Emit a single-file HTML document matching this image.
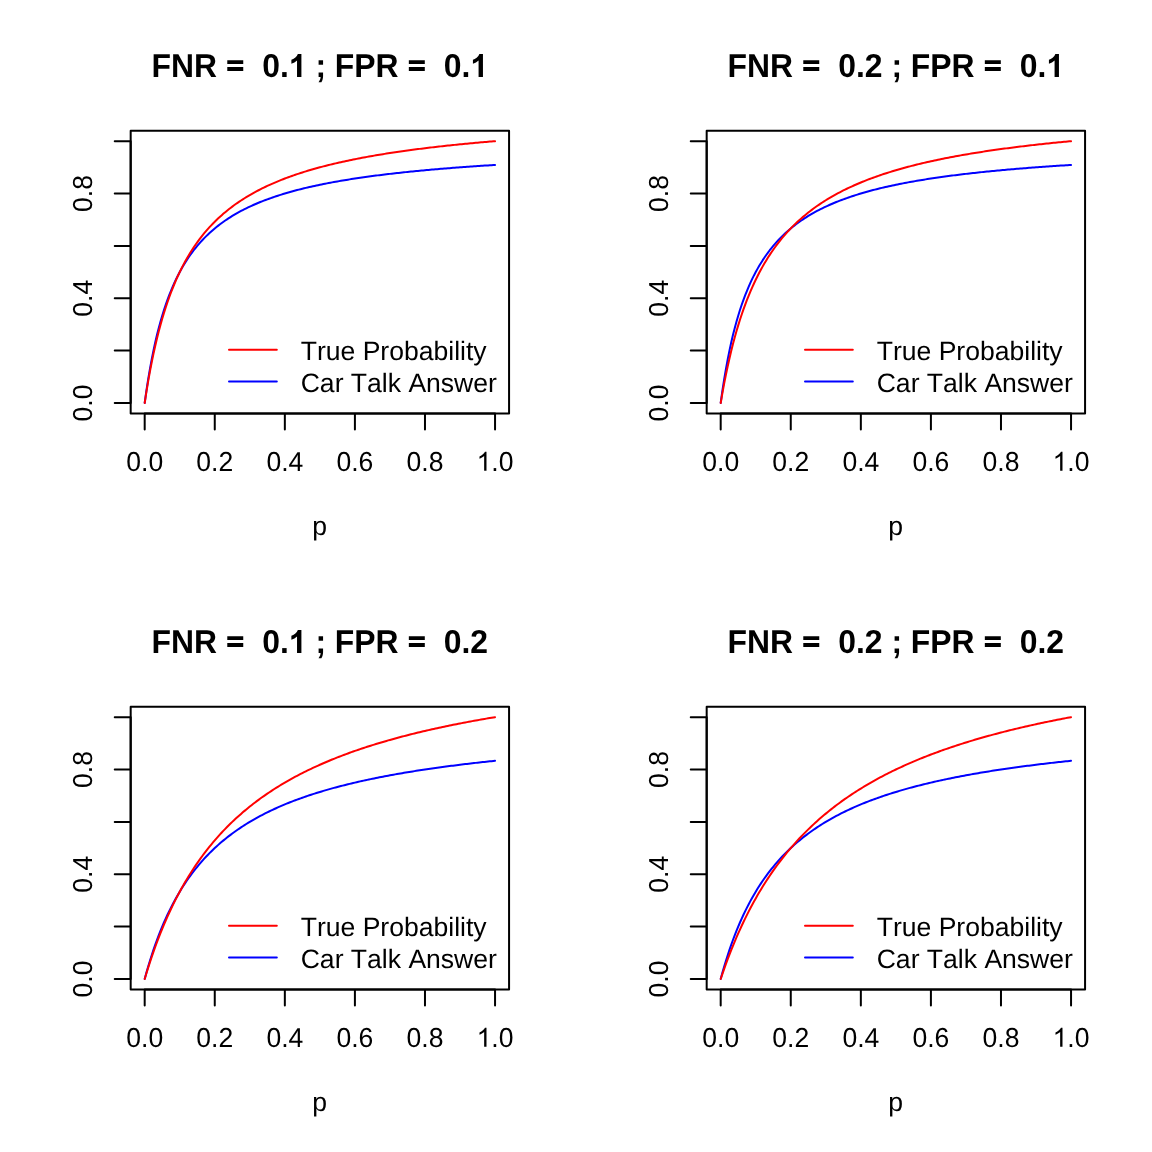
<!DOCTYPE html>
<html><head><meta charset="utf-8"><title>FNR / FPR plots</title>
<style>
html,body{margin:0;padding:0;background:#fff;overflow:hidden;}
svg{display:block;will-change:transform;}
text{font-family:"Liberation Sans",sans-serif;fill:#000;white-space:pre;font-kerning:none;text-rendering:geometricPrecision;}
.t{font-size:26.56px;}
.m{font-size:31.872px;font-weight:bold;}
.h{fill:none;fill-opacity:0;}
.k *{fill:none;stroke-width:2;stroke-linecap:round;stroke-linejoin:round;}
</style></head><body>
<svg width="1152" height="1152" viewBox="0 0 1152 1152">
<rect width="1152" height="1152" fill="#fff"/>
<!-- panel FNR=0.1 FPR=0.1 -->
<g class="k" stroke="#000">
<polyline points="144.69,402.98 146.44,390.51 148.19,379.18 149.95,368.83 151.7,359.34 153.45,350.61 155.2,342.56 156.95,335.1 158.7,328.17 160.46,321.72 162.21,315.7 163.96,310.07 165.71,304.79 167.46,299.83 169.22,295.17 170.97,290.77 172.72,286.61 174.47,282.68 176.22,278.95 177.97,275.42 179.73,272.06 181.48,268.87 183.23,265.83 184.98,262.93 186.73,260.16 188.49,257.52 190.24,254.99 191.99,252.57 193.74,250.24 195.49,248.02 197.24,245.88 199,243.83 200.75,241.85 202.5,239.95 204.25,238.12 206,236.36 207.76,234.66 209.51,233.02 211.26,231.44 213.01,229.9 214.76,228.43 216.51,226.99 218.27,225.61 220.02,224.27 221.77,222.97 223.52,221.71 225.27,220.49 227.03,219.31 228.78,218.16 230.53,217.04 232.28,215.96 234.03,214.9 235.78,213.88 237.54,212.88 239.29,211.91 241.04,210.97 242.79,210.05 244.54,209.16 246.3,208.28 248.05,207.43 249.8,206.61 251.55,205.8 253.3,205.01 255.05,204.24 256.81,203.49 258.56,202.76 260.31,202.04 262.06,201.34 263.81,200.66 265.57,199.99 267.32,199.33 269.07,198.69 270.82,198.07 272.57,197.46 274.32,196.86 276.08,196.27 277.83,195.7 279.58,195.13 281.33,194.58 283.08,194.04 284.84,193.51 286.59,193 288.34,192.49 290.09,191.99 291.84,191.5 293.59,191.02 295.35,190.55 297.1,190.09 298.85,189.64 300.6,189.19 302.35,188.75 304.11,188.33 305.86,187.9 307.61,187.49 309.36,187.08 311.11,186.68 312.86,186.29 314.62,185.91 316.37,185.53 318.12,185.15 319.87,184.79 321.62,184.43 323.38,184.07 325.13,183.72 326.88,183.38 328.63,183.04 330.38,182.71 332.13,182.38 333.89,182.06 335.64,181.74 337.39,181.43 339.14,181.12 340.89,180.82 342.65,180.52 344.4,180.23 346.15,179.94 347.9,179.65 349.65,179.37 351.4,179.09 353.16,178.82 354.91,178.55 356.66,178.29 358.41,178.03 360.16,177.77 361.92,177.51 363.67,177.26 365.42,177.02 367.17,176.77 368.92,176.53 370.67,176.29 372.43,176.06 374.18,175.83 375.93,175.6 377.68,175.37 379.43,175.15 381.19,174.93 382.94,174.72 384.69,174.5 386.44,174.29 388.19,174.08 389.94,173.88 391.7,173.67 393.45,173.47 395.2,173.27 396.95,173.08 398.7,172.89 400.46,172.69 402.21,172.51 403.96,172.32 405.71,172.13 407.46,171.95 409.21,171.77 410.97,171.59 412.72,171.42 414.47,171.24 416.22,171.07 417.97,170.9 419.73,170.73 421.48,170.57 423.23,170.4 424.98,170.24 426.73,170.08 428.48,169.92 430.24,169.76 431.99,169.61 433.74,169.45 435.49,169.3 437.24,169.15 439,169 440.75,168.86 442.5,168.71 444.25,168.57 446,168.42 447.76,168.28 449.51,168.14 451.26,168 453.01,167.87 454.76,167.73 456.51,167.6 458.27,167.46 460.02,167.33 461.77,167.2 463.52,167.07 465.27,166.94 467.03,166.82 468.78,166.69 470.53,166.57 472.28,166.45 474.03,166.32 475.78,166.2 477.54,166.08 479.29,165.97 481.04,165.85 482.79,165.73 484.54,165.62 486.3,165.5 488.05,165.39 489.8,165.28 491.55,165.17 493.3,165.06 495.05,164.95" stroke="#00f"/>
<polyline points="144.69,402.98 146.44,391.65 148.19,381.16 149.95,371.42 151.7,362.35 153.45,353.89 155.2,345.97 156.95,338.54 158.7,331.57 160.46,325.01 162.21,318.82 163.96,312.98 165.71,307.45 167.46,302.21 169.22,297.24 170.97,292.52 172.72,288.03 174.47,283.75 176.22,279.68 177.97,275.78 179.73,272.06 181.48,268.51 183.23,265.1 184.98,261.84 186.73,258.71 188.49,255.7 190.24,252.81 191.99,250.03 193.74,247.36 195.49,244.79 197.24,242.31 199,239.92 200.75,237.61 202.5,235.39 204.25,233.23 206,231.15 207.76,229.14 209.51,227.19 211.26,225.31 213.01,223.48 214.76,221.71 216.51,220 218.27,218.33 220.02,216.71 221.77,215.14 223.52,213.62 225.27,212.14 227.03,210.7 228.78,209.3 230.53,207.93 232.28,206.61 234.03,205.31 235.78,204.06 237.54,202.83 239.29,201.63 241.04,200.47 242.79,199.33 244.54,198.22 246.3,197.14 248.05,196.09 249.8,195.05 251.55,194.05 253.3,193.06 255.05,192.1 256.81,191.16 258.56,190.24 260.31,189.34 262.06,188.46 263.81,187.6 265.57,186.76 267.32,185.94 269.07,185.13 270.82,184.34 272.57,183.56 274.32,182.8 276.08,182.06 277.83,181.33 279.58,180.62 281.33,179.91 283.08,179.23 284.84,178.55 286.59,177.89 288.34,177.24 290.09,176.6 291.84,175.98 293.59,175.37 295.35,174.76 297.1,174.17 298.85,173.59 300.6,173.02 302.35,172.45 304.11,171.9 305.86,171.36 307.61,170.83 309.36,170.3 311.11,169.79 312.86,169.28 314.62,168.78 316.37,168.29 318.12,167.81 319.87,167.33 321.62,166.86 323.38,166.4 325.13,165.95 326.88,165.5 328.63,165.07 330.38,164.63 332.13,164.21 333.89,163.79 335.64,163.37 337.39,162.97 339.14,162.57 340.89,162.17 342.65,161.78 344.4,161.4 346.15,161.02 347.9,160.65 349.65,160.28 351.4,159.92 353.16,159.56 354.91,159.21 356.66,158.86 358.41,158.51 360.16,158.18 361.92,157.84 363.67,157.51 365.42,157.19 367.17,156.87 368.92,156.55 370.67,156.24 372.43,155.93 374.18,155.62 375.93,155.32 377.68,155.03 379.43,154.73 381.19,154.44 382.94,154.16 384.69,153.88 386.44,153.6 388.19,153.32 389.94,153.05 391.7,152.78 393.45,152.52 395.2,152.25 396.95,151.99 398.7,151.74 400.46,151.48 402.21,151.23 403.96,150.99 405.71,150.74 407.46,150.5 409.21,150.26 410.97,150.02 412.72,149.79 414.47,149.56 416.22,149.33 417.97,149.1 419.73,148.88 421.48,148.66 423.23,148.44 424.98,148.22 426.73,148.01 428.48,147.8 430.24,147.59 431.99,147.38 433.74,147.18 435.49,146.97 437.24,146.77 439,146.57 440.75,146.38 442.5,146.18 444.25,145.99 446,145.8 447.76,145.61 449.51,145.42 451.26,145.24 453.01,145.06 454.76,144.88 456.51,144.7 458.27,144.52 460.02,144.34 461.77,144.17 463.52,143.99 465.27,143.82 467.03,143.65 468.78,143.49 470.53,143.32 472.28,143.16 474.03,142.99 475.78,142.83 477.54,142.67 479.29,142.51 481.04,142.36 482.79,142.2 484.54,142.05 486.3,141.89 488.05,141.74 489.8,141.59 491.55,141.44 493.3,141.29 495.05,141.15" stroke="#f00"/>
<path d="M144.69 413.45H495.05M144.69 413.45v15.94M214.76 413.45v15.94M284.84 413.45v15.94M354.91 413.45v15.94M424.98 413.45v15.94M495.05 413.45v15.94M130.68 402.98V141.15M130.68 402.98h-15.94M130.68 350.61h-15.94M130.68 298.25h-15.94M130.68 245.88h-15.94M130.68 193.51h-15.94M130.68 141.15h-15.94"/>
<rect x="130.68" y="130.68" width="378.39" height="282.78"/>
<path d="M229 349.71h47.8" stroke="#f00"/>
<path d="M229 381.58h47.8" stroke="#00f"/>
</g>
<g transform="translate(144.69 470.82)"><text x="-18.46" y="0" class="t" transform="scale(1 1.032)">0.0</text></g>
<g transform="translate(214.76 470.82)"><text x="-18.46" y="0" class="t" transform="scale(1 1.032)">0.2</text></g>
<g transform="translate(284.84 470.82)"><text x="-18.46" y="0" class="t" transform="scale(1 1.032)">0.4</text></g>
<g transform="translate(354.91 470.82)"><text x="-18.46" y="0" class="t" transform="scale(1 1.032)">0.6</text></g>
<g transform="translate(424.98 470.82)"><text x="-18.46" y="0" class="t" transform="scale(1 1.032)">0.8</text></g>
<g transform="translate(495.05 470.82)"><text x="-18.46" y="0" class="t" transform="scale(1 1.032)"><tspan class="h">1</tspan>.0</text><path d="M763 0H583V1147Q518 1085 412.5 1023T223 930V1104Q374 1175 487.5 1275T647 1472H763Z" transform="translate(-18.46 0) scale(0.012969 -0.012969)"/></g>
<g transform="translate(92.43 402.98) rotate(-90)"><text x="-18.46" y="0" class="t" transform="scale(1 1.032)">0.0</text></g>
<g transform="translate(92.43 298.25) rotate(-90)"><text x="-18.46" y="0" class="t" transform="scale(1 1.032)">0.4</text></g>
<g transform="translate(92.43 193.51) rotate(-90)"><text x="-18.46" y="0" class="t" transform="scale(1 1.032)">0.8</text></g>
<g transform="translate(319.57 534.57)"><text x="-7.39" y="0" class="t">p</text></g>
<g transform="translate(319.87 76.9)"><text x="-168.27" y="0" class="m" transform="scale(1 1.038)">FNR <tspan class="h">=</tspan>  0.<tspan class="h">1</tspan> ; FPR <tspan class="h">=</tspan>  0.<tspan class="h">1</tspan></text><path d="M85 829H1111V1076H85ZM85 383H1111V631H85Z" transform="translate(-93.91 0) scale(0.015562 -0.015562)"/><path d="M806 0H525V1059Q371 915 162 846V1101Q272 1137 401 1236.5T578 1472H806Z" transform="translate(-31.01 0) scale(0.015562 -0.015562)"/><path d="M85 829H1111V1076H85ZM85 383H1111V631H85Z" transform="translate(87.64 0) scale(0.015562 -0.015562)"/><path d="M806 0H525V1059Q371 915 162 846V1101Q272 1137 401 1236.5T578 1472H806Z" transform="translate(150.54 0) scale(0.015562 -0.015562)"/></g>
<g transform="translate(300.7 359.91)"><text x="0" y="0" class="t">True Probability</text></g>
<g transform="translate(300.7 391.78)"><text x="0" y="0" class="t">Car Talk Answer</text></g>
<!-- panel FNR=0.2 FPR=0.1 -->
<g class="k" stroke="#000">
<polyline points="720.69,402.98 722.44,390.51 724.19,379.18 725.95,368.83 727.7,359.34 729.45,350.61 731.2,342.56 732.95,335.1 734.7,328.17 736.46,321.72 738.21,315.7 739.96,310.07 741.71,304.79 743.46,299.83 745.22,295.17 746.97,290.77 748.72,286.61 750.47,282.68 752.22,278.95 753.97,275.42 755.73,272.06 757.48,268.87 759.23,265.83 760.98,262.93 762.73,260.16 764.49,257.52 766.24,254.99 767.99,252.57 769.74,250.24 771.49,248.02 773.24,245.88 775,243.83 776.75,241.85 778.5,239.95 780.25,238.12 782,236.36 783.76,234.66 785.51,233.02 787.26,231.44 789.01,229.9 790.76,228.43 792.51,226.99 794.27,225.61 796.02,224.27 797.77,222.97 799.52,221.71 801.27,220.49 803.03,219.31 804.78,218.16 806.53,217.04 808.28,215.96 810.03,214.9 811.78,213.88 813.54,212.88 815.29,211.91 817.04,210.97 818.79,210.05 820.54,209.16 822.3,208.28 824.05,207.43 825.8,206.61 827.55,205.8 829.3,205.01 831.05,204.24 832.81,203.49 834.56,202.76 836.31,202.04 838.06,201.34 839.81,200.66 841.57,199.99 843.32,199.33 845.07,198.69 846.82,198.07 848.57,197.46 850.32,196.86 852.08,196.27 853.83,195.7 855.58,195.13 857.33,194.58 859.08,194.04 860.84,193.51 862.59,193 864.34,192.49 866.09,191.99 867.84,191.5 869.59,191.02 871.35,190.55 873.1,190.09 874.85,189.64 876.6,189.19 878.35,188.75 880.11,188.33 881.86,187.9 883.61,187.49 885.36,187.08 887.11,186.68 888.86,186.29 890.62,185.91 892.37,185.53 894.12,185.15 895.87,184.79 897.62,184.43 899.38,184.07 901.13,183.72 902.88,183.38 904.63,183.04 906.38,182.71 908.13,182.38 909.89,182.06 911.64,181.74 913.39,181.43 915.14,181.12 916.89,180.82 918.65,180.52 920.4,180.23 922.15,179.94 923.9,179.65 925.65,179.37 927.4,179.09 929.16,178.82 930.91,178.55 932.66,178.29 934.41,178.03 936.16,177.77 937.92,177.51 939.67,177.26 941.42,177.02 943.17,176.77 944.92,176.53 946.67,176.29 948.43,176.06 950.18,175.83 951.93,175.6 953.68,175.37 955.43,175.15 957.19,174.93 958.94,174.72 960.69,174.5 962.44,174.29 964.19,174.08 965.94,173.88 967.7,173.67 969.45,173.47 971.2,173.27 972.95,173.08 974.7,172.89 976.46,172.69 978.21,172.51 979.96,172.32 981.71,172.13 983.46,171.95 985.21,171.77 986.97,171.59 988.72,171.42 990.47,171.24 992.22,171.07 993.97,170.9 995.73,170.73 997.48,170.57 999.23,170.4 1000.98,170.24 1002.73,170.08 1004.48,169.92 1006.24,169.76 1007.99,169.61 1009.74,169.45 1011.49,169.3 1013.24,169.15 1015,169 1016.75,168.86 1018.5,168.71 1020.25,168.57 1022,168.42 1023.76,168.28 1025.51,168.14 1027.26,168 1029.01,167.87 1030.76,167.73 1032.51,167.6 1034.27,167.46 1036.02,167.33 1037.77,167.2 1039.52,167.07 1041.27,166.94 1043.03,166.82 1044.78,166.69 1046.53,166.57 1048.28,166.45 1050.03,166.32 1051.78,166.2 1053.54,166.08 1055.29,165.97 1057.04,165.85 1058.79,165.73 1060.54,165.62 1062.3,165.5 1064.05,165.39 1065.8,165.28 1067.55,165.17 1069.3,165.06 1071.05,164.95" stroke="#00f"/>
<polyline points="720.69,402.98 722.44,392.86 724.19,383.4 725.95,374.55 727.7,366.23 729.45,358.41 731.2,351.05 732.95,344.09 734.7,337.52 736.46,331.3 738.21,325.4 739.96,319.8 741.71,314.47 743.46,309.4 745.22,304.57 746.97,299.96 748.72,295.56 750.47,291.35 752.22,287.32 753.97,283.47 755.73,279.76 757.48,276.21 759.23,272.8 760.98,269.53 762.73,266.37 764.49,263.34 766.24,260.41 767.99,257.59 769.74,254.87 771.49,252.25 773.24,249.71 775,247.26 776.75,244.89 778.5,242.6 780.25,240.38 782,238.23 783.76,236.15 785.51,234.13 787.26,232.17 789.01,230.27 790.76,228.43 792.51,226.63 794.27,224.89 796.02,223.2 797.77,221.55 799.52,219.95 801.27,218.39 803.03,216.88 804.78,215.4 806.53,213.96 808.28,212.56 810.03,211.19 811.78,209.86 813.54,208.56 815.29,207.29 817.04,206.05 818.79,204.84 820.54,203.66 822.3,202.5 824.05,201.37 825.8,200.27 827.55,199.19 829.3,198.14 831.05,197.11 832.81,196.1 834.56,195.11 836.31,194.15 838.06,193.2 839.81,192.28 841.57,191.37 843.32,190.48 845.07,189.61 846.82,188.75 848.57,187.92 850.32,187.1 852.08,186.29 853.83,185.5 855.58,184.73 857.33,183.97 859.08,183.22 860.84,182.49 862.59,181.77 864.34,181.07 866.09,180.37 867.84,179.69 869.59,179.02 871.35,178.37 873.1,177.72 874.85,177.09 876.6,176.46 878.35,175.85 880.11,175.25 881.86,174.65 883.61,174.07 885.36,173.5 887.11,172.93 888.86,172.38 890.62,171.83 892.37,171.29 894.12,170.76 895.87,170.24 897.62,169.73 899.38,169.22 901.13,168.72 902.88,168.23 904.63,167.75 906.38,167.28 908.13,166.81 909.89,166.35 911.64,165.89 913.39,165.44 915.14,165 916.89,164.56 918.65,164.13 920.4,163.71 922.15,163.29 923.9,162.88 925.65,162.48 927.4,162.07 929.16,161.68 930.91,161.29 932.66,160.9 934.41,160.52 936.16,160.15 937.92,159.78 939.67,159.42 941.42,159.06 943.17,158.7 944.92,158.35 946.67,158 948.43,157.66 950.18,157.32 951.93,156.99 953.68,156.66 955.43,156.33 957.19,156.01 958.94,155.69 960.69,155.38 962.44,155.07 964.19,154.76 965.94,154.46 967.7,154.16 969.45,153.87 971.2,153.58 972.95,153.29 974.7,153 976.46,152.72 978.21,152.44 979.96,152.16 981.71,151.89 983.46,151.62 985.21,151.36 986.97,151.09 988.72,150.83 990.47,150.57 992.22,150.32 993.97,150.07 995.73,149.82 997.48,149.57 999.23,149.32 1000.98,149.08 1002.73,148.84 1004.48,148.61 1006.24,148.37 1007.99,148.14 1009.74,147.91 1011.49,147.68 1013.24,147.46 1015,147.24 1016.75,147.02 1018.5,146.8 1020.25,146.58 1022,146.37 1023.76,146.16 1025.51,145.95 1027.26,145.74 1029.01,145.54 1030.76,145.33 1032.51,145.13 1034.27,144.93 1036.02,144.74 1037.77,144.54 1039.52,144.35 1041.27,144.15 1043.03,143.96 1044.78,143.78 1046.53,143.59 1048.28,143.4 1050.03,143.22 1051.78,143.04 1053.54,142.86 1055.29,142.68 1057.04,142.51 1058.79,142.33 1060.54,142.16 1062.3,141.98 1064.05,141.81 1065.8,141.65 1067.55,141.48 1069.3,141.31 1071.05,141.15" stroke="#f00"/>
<path d="M720.69 413.45H1071.05M720.69 413.45v15.94M790.76 413.45v15.94M860.84 413.45v15.94M930.91 413.45v15.94M1000.98 413.45v15.94M1071.05 413.45v15.94M706.68 402.98V141.15M706.68 402.98h-15.94M706.68 350.61h-15.94M706.68 298.25h-15.94M706.68 245.88h-15.94M706.68 193.51h-15.94M706.68 141.15h-15.94"/>
<rect x="706.68" y="130.68" width="378.39" height="282.78"/>
<path d="M805 349.71h47.8" stroke="#f00"/>
<path d="M805 381.58h47.8" stroke="#00f"/>
</g>
<g transform="translate(720.69 470.82)"><text x="-18.46" y="0" class="t" transform="scale(1 1.032)">0.0</text></g>
<g transform="translate(790.76 470.82)"><text x="-18.46" y="0" class="t" transform="scale(1 1.032)">0.2</text></g>
<g transform="translate(860.84 470.82)"><text x="-18.46" y="0" class="t" transform="scale(1 1.032)">0.4</text></g>
<g transform="translate(930.91 470.82)"><text x="-18.46" y="0" class="t" transform="scale(1 1.032)">0.6</text></g>
<g transform="translate(1000.98 470.82)"><text x="-18.46" y="0" class="t" transform="scale(1 1.032)">0.8</text></g>
<g transform="translate(1071.05 470.82)"><text x="-18.46" y="0" class="t" transform="scale(1 1.032)"><tspan class="h">1</tspan>.0</text><path d="M763 0H583V1147Q518 1085 412.5 1023T223 930V1104Q374 1175 487.5 1275T647 1472H763Z" transform="translate(-18.46 0) scale(0.012969 -0.012969)"/></g>
<g transform="translate(668.43 402.98) rotate(-90)"><text x="-18.46" y="0" class="t" transform="scale(1 1.032)">0.0</text></g>
<g transform="translate(668.43 298.25) rotate(-90)"><text x="-18.46" y="0" class="t" transform="scale(1 1.032)">0.4</text></g>
<g transform="translate(668.43 193.51) rotate(-90)"><text x="-18.46" y="0" class="t" transform="scale(1 1.032)">0.8</text></g>
<g transform="translate(895.57 534.57)"><text x="-7.39" y="0" class="t">p</text></g>
<g transform="translate(895.87 76.9)"><text x="-168.27" y="0" class="m" transform="scale(1 1.038)">FNR <tspan class="h">=</tspan>  0.2 ; FPR <tspan class="h">=</tspan>  0.<tspan class="h">1</tspan></text><path d="M85 829H1111V1076H85ZM85 383H1111V631H85Z" transform="translate(-93.91 0) scale(0.015562 -0.015562)"/><path d="M85 829H1111V1076H85ZM85 383H1111V631H85Z" transform="translate(87.64 0) scale(0.015562 -0.015562)"/><path d="M806 0H525V1059Q371 915 162 846V1101Q272 1137 401 1236.5T578 1472H806Z" transform="translate(150.54 0) scale(0.015562 -0.015562)"/></g>
<g transform="translate(876.7 359.91)"><text x="0" y="0" class="t">True Probability</text></g>
<g transform="translate(876.7 391.78)"><text x="0" y="0" class="t">Car Talk Answer</text></g>
<!-- panel FNR=0.1 FPR=0.2 -->
<g class="k" stroke="#000">
<polyline points="144.69,978.98 146.44,972.59 148.19,966.51 149.95,960.71 151.7,955.18 153.45,949.89 155.2,944.83 156.95,939.98 158.7,935.34 160.46,930.89 162.21,926.61 163.96,922.51 165.71,918.56 167.46,914.76 169.22,911.1 170.97,907.57 172.72,904.17 174.47,900.89 176.22,897.72 177.97,894.66 179.73,891.7 181.48,888.84 183.23,886.07 184.98,883.39 186.73,880.79 188.49,878.28 190.24,875.83 191.99,873.47 193.74,871.17 195.49,868.93 197.24,866.77 199,864.66 200.75,862.61 202.5,860.62 204.25,858.68 206,856.79 207.76,854.95 209.51,853.16 211.26,851.42 213.01,849.72 214.76,848.06 216.51,846.45 218.27,844.87 220.02,843.33 221.77,841.83 223.52,840.36 225.27,838.93 227.03,837.53 228.78,836.16 230.53,834.83 232.28,833.52 234.03,832.24 235.78,830.99 237.54,829.76 239.29,828.57 241.04,827.39 242.79,826.24 244.54,825.12 246.3,824.02 248.05,822.94 249.8,821.88 251.55,820.84 253.3,819.83 255.05,818.83 256.81,817.85 258.56,816.89 260.31,815.95 262.06,815.03 263.81,814.12 265.57,813.23 267.32,812.36 269.07,811.5 270.82,810.66 272.57,809.83 274.32,809.02 276.08,808.22 277.83,807.44 279.58,806.66 281.33,805.9 283.08,805.16 284.84,804.43 286.59,803.7 288.34,802.99 290.09,802.3 291.84,801.61 293.59,800.93 295.35,800.27 297.1,799.61 298.85,798.97 300.6,798.34 302.35,797.71 304.11,797.1 305.86,796.49 307.61,795.89 309.36,795.31 311.11,794.73 312.86,794.16 314.62,793.6 316.37,793.04 318.12,792.5 319.87,791.96 321.62,791.43 323.38,790.9 325.13,790.39 326.88,789.88 328.63,789.38 330.38,788.88 332.13,788.4 333.89,787.91 335.64,787.44 337.39,786.97 339.14,786.51 340.89,786.05 342.65,785.6 344.4,785.16 346.15,784.72 347.9,784.28 349.65,783.86 351.4,783.43 353.16,783.02 354.91,782.61 356.66,782.2 358.41,781.8 360.16,781.4 361.92,781.01 363.67,780.62 365.42,780.24 367.17,779.86 368.92,779.49 370.67,779.12 372.43,778.76 374.18,778.4 375.93,778.04 377.68,777.69 379.43,777.34 381.19,777 382.94,776.66 384.69,776.32 386.44,775.99 388.19,775.66 389.94,775.33 391.7,775.01 393.45,774.69 395.2,774.38 396.95,774.07 398.7,773.76 400.46,773.46 402.21,773.16 403.96,772.86 405.71,772.56 407.46,772.27 409.21,771.98 410.97,771.7 412.72,771.41 414.47,771.13 416.22,770.86 417.97,770.58 419.73,770.31 421.48,770.04 423.23,769.78 424.98,769.51 426.73,769.25 428.48,769 430.24,768.74 431.99,768.49 433.74,768.24 435.49,767.99 437.24,767.74 439,767.5 440.75,767.26 442.5,767.02 444.25,766.78 446,766.55 447.76,766.32 449.51,766.09 451.26,765.86 453.01,765.64 454.76,765.41 456.51,765.19 458.27,764.97 460.02,764.75 461.77,764.54 463.52,764.33 465.27,764.11 467.03,763.9 468.78,763.7 470.53,763.49 472.28,763.29 474.03,763.08 475.78,762.88 477.54,762.68 479.29,762.49 481.04,762.29 482.79,762.1 484.54,761.91 486.3,761.72 488.05,761.53 489.8,761.34 491.55,761.15 493.3,760.97 495.05,760.79" stroke="#00f"/>
<polyline points="144.69,978.98 146.44,973.19 148.19,967.6 149.95,962.19 151.7,956.96 153.45,951.89 155.2,946.99 156.95,942.24 158.7,937.64 160.46,933.17 162.21,928.84 163.96,924.64 165.71,920.55 167.46,916.59 169.22,912.73 170.97,908.99 172.72,905.34 174.47,901.79 176.22,898.34 177.97,894.98 179.73,891.7 181.48,888.51 183.23,885.4 184.98,882.37 186.73,879.41 188.49,876.52 190.24,873.71 191.99,870.96 193.74,868.27 195.49,865.65 197.24,863.09 199,860.58 200.75,858.13 202.5,855.74 204.25,853.4 206,851.11 207.76,848.87 209.51,846.67 211.26,844.53 213.01,842.42 214.76,840.36 216.51,838.35 218.27,836.37 220.02,834.43 221.77,832.53 223.52,830.67 225.27,828.84 227.03,827.05 228.78,825.3 230.53,823.57 232.28,821.88 234.03,820.22 235.78,818.59 237.54,816.99 239.29,815.42 241.04,813.88 242.79,812.36 244.54,810.87 246.3,809.41 248.05,807.97 249.8,806.55 251.55,805.16 253.3,803.8 255.05,802.45 256.81,801.13 258.56,799.83 260.31,798.55 262.06,797.29 263.81,796.06 265.57,794.84 267.32,793.64 269.07,792.46 270.82,791.3 272.57,790.15 274.32,789.02 276.08,787.91 277.83,786.82 279.58,785.74 281.33,784.68 283.08,783.64 284.84,782.61 286.59,781.59 288.34,780.59 290.09,779.6 291.84,778.63 293.59,777.67 295.35,776.73 297.1,775.79 298.85,774.87 300.6,773.97 302.35,773.07 304.11,772.19 305.86,771.32 307.61,770.46 309.36,769.61 311.11,768.78 312.86,767.95 314.62,767.14 316.37,766.33 318.12,765.54 319.87,764.75 321.62,763.98 323.38,763.22 325.13,762.46 326.88,761.72 328.63,760.98 330.38,760.25 332.13,759.53 333.89,758.82 335.64,758.12 337.39,757.43 339.14,756.75 340.89,756.07 342.65,755.4 344.4,754.74 346.15,754.09 347.9,753.44 349.65,752.8 351.4,752.17 353.16,751.55 354.91,750.93 356.66,750.32 358.41,749.72 360.16,749.12 361.92,748.54 363.67,747.95 365.42,747.38 367.17,746.81 368.92,746.24 370.67,745.68 372.43,745.13 374.18,744.58 375.93,744.04 377.68,743.51 379.43,742.98 381.19,742.46 382.94,741.94 384.69,741.42 386.44,740.92 388.19,740.41 389.94,739.92 391.7,739.42 393.45,738.94 395.2,738.45 396.95,737.98 398.7,737.5 400.46,737.03 402.21,736.57 403.96,736.11 405.71,735.66 407.46,735.21 409.21,734.76 410.97,734.32 412.72,733.88 414.47,733.45 416.22,733.02 417.97,732.59 419.73,732.17 421.48,731.75 423.23,731.34 424.98,730.93 426.73,730.52 428.48,730.12 430.24,729.72 431.99,729.33 433.74,728.94 435.49,728.55 437.24,728.16 439,727.78 440.75,727.4 442.5,727.03 444.25,726.66 446,726.29 447.76,725.92 449.51,725.56 451.26,725.2 453.01,724.85 454.76,724.5 456.51,724.15 458.27,723.8 460.02,723.46 461.77,723.12 463.52,722.78 465.27,722.44 467.03,722.11 468.78,721.78 470.53,721.46 472.28,721.13 474.03,720.81 475.78,720.49 477.54,720.18 479.29,719.86 481.04,719.55 482.79,719.24 484.54,718.94 486.3,718.63 488.05,718.33 489.8,718.03 491.55,717.73 493.3,717.44 495.05,717.15" stroke="#f00"/>
<path d="M144.69 989.45H495.05M144.69 989.45v15.94M214.76 989.45v15.94M284.84 989.45v15.94M354.91 989.45v15.94M424.98 989.45v15.94M495.05 989.45v15.94M130.68 978.98V717.15M130.68 978.98h-15.94M130.68 926.61h-15.94M130.68 874.25h-15.94M130.68 821.88h-15.94M130.68 769.51h-15.94M130.68 717.15h-15.94"/>
<rect x="130.68" y="706.68" width="378.39" height="282.78"/>
<path d="M229 925.71h47.8" stroke="#f00"/>
<path d="M229 957.58h47.8" stroke="#00f"/>
</g>
<g transform="translate(144.69 1046.82)"><text x="-18.46" y="0" class="t" transform="scale(1 1.032)">0.0</text></g>
<g transform="translate(214.76 1046.82)"><text x="-18.46" y="0" class="t" transform="scale(1 1.032)">0.2</text></g>
<g transform="translate(284.84 1046.82)"><text x="-18.46" y="0" class="t" transform="scale(1 1.032)">0.4</text></g>
<g transform="translate(354.91 1046.82)"><text x="-18.46" y="0" class="t" transform="scale(1 1.032)">0.6</text></g>
<g transform="translate(424.98 1046.82)"><text x="-18.46" y="0" class="t" transform="scale(1 1.032)">0.8</text></g>
<g transform="translate(495.05 1046.82)"><text x="-18.46" y="0" class="t" transform="scale(1 1.032)"><tspan class="h">1</tspan>.0</text><path d="M763 0H583V1147Q518 1085 412.5 1023T223 930V1104Q374 1175 487.5 1275T647 1472H763Z" transform="translate(-18.46 0) scale(0.012969 -0.012969)"/></g>
<g transform="translate(92.43 978.98) rotate(-90)"><text x="-18.46" y="0" class="t" transform="scale(1 1.032)">0.0</text></g>
<g transform="translate(92.43 874.25) rotate(-90)"><text x="-18.46" y="0" class="t" transform="scale(1 1.032)">0.4</text></g>
<g transform="translate(92.43 769.51) rotate(-90)"><text x="-18.46" y="0" class="t" transform="scale(1 1.032)">0.8</text></g>
<g transform="translate(319.57 1110.57)"><text x="-7.39" y="0" class="t">p</text></g>
<g transform="translate(319.87 652.9)"><text x="-168.27" y="0" class="m" transform="scale(1 1.038)">FNR <tspan class="h">=</tspan>  0.<tspan class="h">1</tspan> ; FPR <tspan class="h">=</tspan>  0.2</text><path d="M85 829H1111V1076H85ZM85 383H1111V631H85Z" transform="translate(-93.91 0) scale(0.015562 -0.015562)"/><path d="M806 0H525V1059Q371 915 162 846V1101Q272 1137 401 1236.5T578 1472H806Z" transform="translate(-31.01 0) scale(0.015562 -0.015562)"/><path d="M85 829H1111V1076H85ZM85 383H1111V631H85Z" transform="translate(87.64 0) scale(0.015562 -0.015562)"/></g>
<g transform="translate(300.7 935.91)"><text x="0" y="0" class="t">True Probability</text></g>
<g transform="translate(300.7 967.78)"><text x="0" y="0" class="t">Car Talk Answer</text></g>
<!-- panel FNR=0.2 FPR=0.2 -->
<g class="k" stroke="#000">
<polyline points="720.69,978.98 722.44,972.59 724.19,966.51 725.95,960.71 727.7,955.18 729.45,949.89 731.2,944.83 732.95,939.98 734.7,935.34 736.46,930.89 738.21,926.61 739.96,922.51 741.71,918.56 743.46,914.76 745.22,911.1 746.97,907.57 748.72,904.17 750.47,900.89 752.22,897.72 753.97,894.66 755.73,891.7 757.48,888.84 759.23,886.07 760.98,883.39 762.73,880.79 764.49,878.28 766.24,875.83 767.99,873.47 769.74,871.17 771.49,868.93 773.24,866.77 775,864.66 776.75,862.61 778.5,860.62 780.25,858.68 782,856.79 783.76,854.95 785.51,853.16 787.26,851.42 789.01,849.72 790.76,848.06 792.51,846.45 794.27,844.87 796.02,843.33 797.77,841.83 799.52,840.36 801.27,838.93 803.03,837.53 804.78,836.16 806.53,834.83 808.28,833.52 810.03,832.24 811.78,830.99 813.54,829.76 815.29,828.57 817.04,827.39 818.79,826.24 820.54,825.12 822.3,824.02 824.05,822.94 825.8,821.88 827.55,820.84 829.3,819.83 831.05,818.83 832.81,817.85 834.56,816.89 836.31,815.95 838.06,815.03 839.81,814.12 841.57,813.23 843.32,812.36 845.07,811.5 846.82,810.66 848.57,809.83 850.32,809.02 852.08,808.22 853.83,807.44 855.58,806.66 857.33,805.9 859.08,805.16 860.84,804.43 862.59,803.7 864.34,802.99 866.09,802.3 867.84,801.61 869.59,800.93 871.35,800.27 873.1,799.61 874.85,798.97 876.6,798.34 878.35,797.71 880.11,797.1 881.86,796.49 883.61,795.89 885.36,795.31 887.11,794.73 888.86,794.16 890.62,793.6 892.37,793.04 894.12,792.5 895.87,791.96 897.62,791.43 899.38,790.9 901.13,790.39 902.88,789.88 904.63,789.38 906.38,788.88 908.13,788.4 909.89,787.91 911.64,787.44 913.39,786.97 915.14,786.51 916.89,786.05 918.65,785.6 920.4,785.16 922.15,784.72 923.9,784.28 925.65,783.86 927.4,783.43 929.16,783.02 930.91,782.61 932.66,782.2 934.41,781.8 936.16,781.4 937.92,781.01 939.67,780.62 941.42,780.24 943.17,779.86 944.92,779.49 946.67,779.12 948.43,778.76 950.18,778.4 951.93,778.04 953.68,777.69 955.43,777.34 957.19,777 958.94,776.66 960.69,776.32 962.44,775.99 964.19,775.66 965.94,775.33 967.7,775.01 969.45,774.69 971.2,774.38 972.95,774.07 974.7,773.76 976.46,773.46 978.21,773.16 979.96,772.86 981.71,772.56 983.46,772.27 985.21,771.98 986.97,771.7 988.72,771.41 990.47,771.13 992.22,770.86 993.97,770.58 995.73,770.31 997.48,770.04 999.23,769.78 1000.98,769.51 1002.73,769.25 1004.48,769 1006.24,768.74 1007.99,768.49 1009.74,768.24 1011.49,767.99 1013.24,767.74 1015,767.5 1016.75,767.26 1018.5,767.02 1020.25,766.78 1022,766.55 1023.76,766.32 1025.51,766.09 1027.26,765.86 1029.01,765.64 1030.76,765.41 1032.51,765.19 1034.27,764.97 1036.02,764.75 1037.77,764.54 1039.52,764.33 1041.27,764.11 1043.03,763.9 1044.78,763.7 1046.53,763.49 1048.28,763.29 1050.03,763.08 1051.78,762.88 1053.54,762.68 1055.29,762.49 1057.04,762.29 1058.79,762.1 1060.54,761.91 1062.3,761.72 1064.05,761.53 1065.8,761.34 1067.55,761.15 1069.3,760.97 1071.05,760.79" stroke="#00f"/>
<polyline points="720.69,978.98 722.44,973.82 724.19,968.81 725.95,963.95 727.7,959.22 729.45,954.62 731.2,950.15 732.95,945.81 734.7,941.58 736.46,937.46 738.21,933.44 739.96,929.54 741.71,925.73 743.46,922.01 745.22,918.39 746.97,914.86 748.72,911.41 750.47,908.05 752.22,904.76 753.97,901.55 755.73,898.42 757.48,895.35 759.23,892.36 760.98,889.43 762.73,886.57 764.49,883.77 766.24,881.03 767.99,878.35 769.74,875.72 771.49,873.15 773.24,870.64 775,868.17 776.75,865.76 778.5,863.39 780.25,861.07 782,858.79 783.76,856.57 785.51,854.38 787.26,852.23 789.01,850.13 790.76,848.06 792.51,846.04 794.27,844.05 796.02,842.1 797.77,840.18 799.52,838.29 801.27,836.44 803.03,834.63 804.78,832.84 806.53,831.09 808.28,829.36 810.03,827.67 811.78,826 813.54,824.36 815.29,822.75 817.04,821.16 818.79,819.6 820.54,818.07 822.3,816.56 824.05,815.07 825.8,813.61 827.55,812.17 829.3,810.76 831.05,809.36 832.81,807.99 834.56,806.64 836.31,805.3 838.06,803.99 839.81,802.7 841.57,801.42 843.32,800.17 845.07,798.93 846.82,797.71 848.57,796.51 850.32,795.33 852.08,794.16 853.83,793.01 855.58,791.87 857.33,790.75 859.08,789.65 860.84,788.56 862.59,787.48 864.34,786.42 866.09,785.38 867.84,784.34 869.59,783.33 871.35,782.32 873.1,781.33 874.85,780.35 876.6,779.38 878.35,778.43 880.11,777.49 881.86,776.56 883.61,775.64 885.36,774.73 887.11,773.83 888.86,772.95 890.62,772.07 892.37,771.21 894.12,770.36 895.87,769.51 897.62,768.68 899.38,767.86 901.13,767.05 902.88,766.24 904.63,765.45 906.38,764.66 908.13,763.89 909.89,763.12 911.64,762.36 913.39,761.61 915.14,760.87 916.89,760.14 918.65,759.41 920.4,758.69 922.15,757.98 923.9,757.28 925.65,756.59 927.4,755.9 929.16,755.22 930.91,754.55 932.66,753.89 934.41,753.23 936.16,752.58 937.92,751.94 939.67,751.3 941.42,750.67 943.17,750.05 944.92,749.43 946.67,748.82 948.43,748.21 950.18,747.61 951.93,747.02 953.68,746.44 955.43,745.85 957.19,745.28 958.94,744.71 960.69,744.15 962.44,743.59 964.19,743.03 965.94,742.49 967.7,741.94 969.45,741.41 971.2,740.88 972.95,740.35 974.7,739.83 976.46,739.31 978.21,738.8 979.96,738.29 981.71,737.79 983.46,737.29 985.21,736.8 986.97,736.31 988.72,735.82 990.47,735.34 992.22,734.87 993.97,734.39 995.73,733.93 997.48,733.46 999.23,733.01 1000.98,732.55 1002.73,732.1 1004.48,731.65 1006.24,731.21 1007.99,730.77 1009.74,730.33 1011.49,729.9 1013.24,729.47 1015,729.05 1016.75,728.63 1018.5,728.21 1020.25,727.8 1022,727.39 1023.76,726.98 1025.51,726.58 1027.26,726.18 1029.01,725.78 1030.76,725.39 1032.51,725 1034.27,724.61 1036.02,724.22 1037.77,723.84 1039.52,723.47 1041.27,723.09 1043.03,722.72 1044.78,722.35 1046.53,721.98 1048.28,721.62 1050.03,721.26 1051.78,720.9 1053.54,720.55 1055.29,720.2 1057.04,719.85 1058.79,719.5 1060.54,719.16 1062.3,718.82 1064.05,718.48 1065.8,718.14 1067.55,717.81 1069.3,717.48 1071.05,717.15" stroke="#f00"/>
<path d="M720.69 989.45H1071.05M720.69 989.45v15.94M790.76 989.45v15.94M860.84 989.45v15.94M930.91 989.45v15.94M1000.98 989.45v15.94M1071.05 989.45v15.94M706.68 978.98V717.15M706.68 978.98h-15.94M706.68 926.61h-15.94M706.68 874.25h-15.94M706.68 821.88h-15.94M706.68 769.51h-15.94M706.68 717.15h-15.94"/>
<rect x="706.68" y="706.68" width="378.39" height="282.78"/>
<path d="M805 925.71h47.8" stroke="#f00"/>
<path d="M805 957.58h47.8" stroke="#00f"/>
</g>
<g transform="translate(720.69 1046.82)"><text x="-18.46" y="0" class="t" transform="scale(1 1.032)">0.0</text></g>
<g transform="translate(790.76 1046.82)"><text x="-18.46" y="0" class="t" transform="scale(1 1.032)">0.2</text></g>
<g transform="translate(860.84 1046.82)"><text x="-18.46" y="0" class="t" transform="scale(1 1.032)">0.4</text></g>
<g transform="translate(930.91 1046.82)"><text x="-18.46" y="0" class="t" transform="scale(1 1.032)">0.6</text></g>
<g transform="translate(1000.98 1046.82)"><text x="-18.46" y="0" class="t" transform="scale(1 1.032)">0.8</text></g>
<g transform="translate(1071.05 1046.82)"><text x="-18.46" y="0" class="t" transform="scale(1 1.032)"><tspan class="h">1</tspan>.0</text><path d="M763 0H583V1147Q518 1085 412.5 1023T223 930V1104Q374 1175 487.5 1275T647 1472H763Z" transform="translate(-18.46 0) scale(0.012969 -0.012969)"/></g>
<g transform="translate(668.43 978.98) rotate(-90)"><text x="-18.46" y="0" class="t" transform="scale(1 1.032)">0.0</text></g>
<g transform="translate(668.43 874.25) rotate(-90)"><text x="-18.46" y="0" class="t" transform="scale(1 1.032)">0.4</text></g>
<g transform="translate(668.43 769.51) rotate(-90)"><text x="-18.46" y="0" class="t" transform="scale(1 1.032)">0.8</text></g>
<g transform="translate(895.57 1110.57)"><text x="-7.39" y="0" class="t">p</text></g>
<g transform="translate(895.87 652.9)"><text x="-168.27" y="0" class="m" transform="scale(1 1.038)">FNR <tspan class="h">=</tspan>  0.2 ; FPR <tspan class="h">=</tspan>  0.2</text><path d="M85 829H1111V1076H85ZM85 383H1111V631H85Z" transform="translate(-93.91 0) scale(0.015562 -0.015562)"/><path d="M85 829H1111V1076H85ZM85 383H1111V631H85Z" transform="translate(87.64 0) scale(0.015562 -0.015562)"/></g>
<g transform="translate(876.7 935.91)"><text x="0" y="0" class="t">True Probability</text></g>
<g transform="translate(876.7 967.78)"><text x="0" y="0" class="t">Car Talk Answer</text></g>
</svg>
</body></html>
